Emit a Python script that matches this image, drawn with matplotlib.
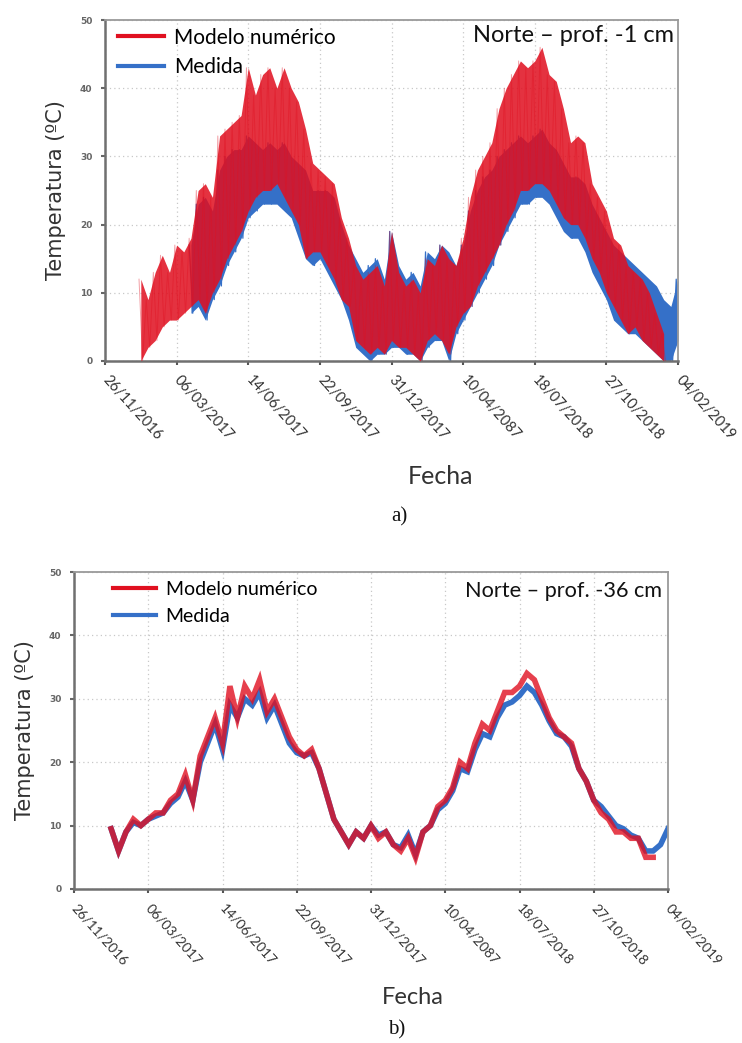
import numpy as np
import matplotlib
matplotlib.use('Agg')
import matplotlib.pyplot as plt
from matplotlib.lines import Line2D

# fechas: dias desde 26/11/2016, cada 10 dias
dias = [50, 60, 70, 80, 90, 100, 110, 120, 130, 140, 150, 160, 170, 180, 190,
        200, 210, 220, 230, 240, 250, 260, 270, 280, 290, 300, 310, 320, 330,
        340, 350, 360, 370, 380, 390, 400, 410, 420, 430, 440, 450, 460, 470,
        480, 490, 500, 510, 520, 530, 540, 550, 560, 570, 580, 590, 600, 610,
        620, 630, 640, 650, 660, 670, 680, 690, 700, 710, 720, 730, 740, 750,
        760, 770, 780, 790, 800]

nan = np.nan

# a) Norte - prof. -1 cm (envolventes max/min)
modelo_a_max = [12, 9, 13, 15.5, 13, 17, 16, 18, 25, 26, 24, 33, 34, 35, 36,
                43, 39, 42, 43, 40, 43, 40, 38, 34, 29, 28, 27, 26, 21,
                18, 14, 12, 13, 14, 11, 19, 13, 11, 12, 10, 15, 14, 17,
                15, 14, 18, 24, 28, 30, 32, 37, 40, 42, 44, 43, 44, 46,
                42, 41, 37, 32, 33, 32, 26, 24, 22, 18, 17, 14, 13, 12,
                10, 7, 4, nan, nan]
modelo_a_min = [0, 2, 3, 5, 6, 6, 7, 8, 9, 7, 10, 12, 15, 17, 19,
                22, 24, 25, 25, 26, 24, 22, 20, 15, 16, 16, 14, 12, 9,
                8, 3, 2, 1, 2, 1, 3, 2, 2, 1, 0, 3, 4, 3,
                1, 5, 7, 8, 11, 13, 15, 17, 20, 22, 25, 25, 26, 26,
                25, 23, 21, 20, 20, 18, 15, 13, 10, 8, 6, 4, 5, 3,
                2, 1, 0, nan, nan]
medida_a_max = [nan, nan, nan, nan, nan, nan, nan, 17, 23, 24, 22, 28, 30, 31, 31,
                33, 32, 31, 32, 31, 32, 30, 29, 28, 25, 25, 25, 24, 20,
                17, 15, 13, 14, 15, 12, 19, 14, 12, 13, 11, 16, 15, 17,
                16, 14, 17, 22, 25, 27, 28, 30, 31, 32, 33, 32, 33, 34,
                32, 31, 29, 27, 27, 26, 23, 21, 19, 17, 16, 15, 14, 13,
                12, 11, 9, 8, 12]
medida_a_min = [nan, nan, nan, nan, nan, nan, nan, 7, 8, 6, 9, 11, 14, 16, 18,
                21, 22, 23, 23, 23, 22, 21, 18, 15, 14, 15, 13, 11, 9,
                6, 2, 1, 0, 1, 1, 2, 2, 1, 1, 0, 2, 3, 3,
                0, 4, 6, 8, 10, 12, 14, 17, 19, 21, 23, 23, 24, 24,
                23, 21, 19, 18, 18, 16, 13, 11, 9, 6, 5, 4, 4, 3,
                2, 1, 0, 0, 3]

# b) Norte - prof. -36 cm
modelo_b = [9.5, 6, 9, 11, 10, 11, 12, 12, 14, 15, 18, 14, 21, 24, 27,
            23, 32, 27, 32, 30, 33, 28, 30, 27, 24, 22, 21, 22, 19,
            15, 11, 9, 7, 9, 8, 10, 8, 9, 7, 6, 8, 5, 9,
            10, 13, 14, 16, 20, 19, 23, 26, 25, 28, 31, 31, 32, 34,
            33, 30, 27, 25, 24, 23, 19, 17, 14, 12, 11, 9, 9, 8,
            8, 5, 5, nan, nan]
medida_b = [9.5, 6, 9, 10.5, 10, 11, 11.5, 12, 13.5, 14.5, 17, 14, 20, 23, 26,
            22, 29, 27, 30, 29, 31, 27, 29, 26, 23, 21.5, 21, 21.5, 19,
            15, 11, 9, 7, 9, 8, 10, 8.5, 9, 7, 6.5, 8.5, 5.5, 9,
            10, 12.5, 13.5, 15.5, 19, 18.5, 22, 24.5, 24, 27, 29, 29.5, 30.5, 32,
            31, 29, 26.5, 24.5, 24, 22.5, 19, 17, 14, 13, 11.5, 10, 9.5, 8.5,
            8, 6, 6, 7, 9.5]

fechas_ticks = ['26/11/2016', '06/03/2017', '14/06/2017', '22/09/2017',
                '31/12/2017', '10/04/2087', '18/07/2018', '27/10/2018',
                '04/02/2019']
ticks_dias = [0, 100, 200, 300, 400, 500, 600, 700, 800]

ROJO = '#e01020'
AZUL = '#3570c8'

fig = plt.figure(figsize=(7.42, 10.43), dpi=100)
W, H = 742, 1043


def px_axes(x0, y0, x1, y1):
    return fig.add_axes([x0 / W, 1 - y1 / H, (x1 - x0) / W, (y1 - y0) / H])


def estilo(ax, fs_ticks):
    ax.set_xlim(0, 800)
    ax.set_ylim(0, 50)
    ax.set_xticks(ticks_dias)
    ax.set_xticklabels(fechas_ticks, rotation=-48, ha='left', va='center',
                       rotation_mode='anchor', family='Lato',
                       fontsize=fs_ticks, color='#333333')
    ax.set_yticks([0, 10, 20, 30, 40, 50])
    ax.set_yticklabels(['0', '10', '20', '30', '40', '50'], fontsize=6.5,
                       color='#666666', fontweight='bold')
    ax.tick_params(axis='x', length=3, width=1.5, color='#555555', pad=9)
    ax.tick_params(axis='y', length=3, width=1.5, color='#666666', pad=6)
    ax.grid(True, color='#c8c8c8', linestyle=(0, (1, 2.5)), linewidth=0.9)
    ax.set_axisbelow(True)
    for s in ['left', 'bottom']:
        ax.spines[s].set_color('#707070')
        ax.spines[s].set_linewidth(1.8)
    for s in ['top', 'right']:
        ax.spines[s].set_color('#9a9a9a')
        ax.spines[s].set_linewidth(1.3)


def leyenda(ax, x, y, fs, esp):
    h = [Line2D([], [], color=ROJO, lw=3),
         Line2D([], [], color=AZUL, lw=3)]
    ax.legend(h, ['Modelo numérico', 'Medida'], loc='upper left',
              bbox_to_anchor=(x, y), frameon=False, borderaxespad=0,
              borderpad=0, handlelength=2.2, handletextpad=0.5,
              labelspacing=esp, prop={'family': 'Lato', 'size': fs})


def banda(ax, lo, hi, color, alpha, lw_sierra, alpha_sierra, z):
    # banda max/min diaria y trazo en diente de sierra entre max y min
    ax.fill_between(dias, lo, hi, color=color, alpha=alpha, lw=0, zorder=z)
    xs, ys = [], []
    for d, a, b in zip(dias, hi, lo):
        xs += [d - 2.5, d + 2.5]
        ys += [a, b]
    ax.plot(xs, ys, color=color, alpha=alpha_sierra, lw=lw_sierra,
            zorder=z + 0.1)


# ---- panel a ----
ax1 = px_axes(105, 20, 678, 361)
estilo(ax1, 10.5)
banda(ax1, medida_a_min, medida_a_max, AZUL, 1.0, 0.9, 1.0, 2)
banda(ax1, modelo_a_min, modelo_a_max, ROJO, 0.86, 0.7, 0.4, 3)
leyenda(ax1, 0.023, 0.978, 15, 0.45)
ax1.text(0.993, 0.955, 'Norte – prof. -1 cm', transform=ax1.transAxes,
         ha='right', va='center', family='Lato', fontsize=17, color='#111111')
ax1.set_ylabel('Temperatura (ºC)', fontsize=15, color='#333333', labelpad=10)

# ---- panel b ----
ax2 = px_axes(74, 572, 668, 889)
estilo(ax2, 10)
ax2.plot(dias, medida_b, color=AZUL, lw=4, solid_joinstyle='miter')
ax2.plot(dias, modelo_b, color=ROJO, lw=4, alpha=0.8, solid_joinstyle='miter')
leyenda(ax2, 0.066, 0.972, 14, 0.5)
ax2.text(0.99, 0.94, 'Norte – prof. -36 cm', transform=ax2.transAxes,
         ha='right', va='center', family='Lato', fontsize=15.6, color='#111111')
ax2.set_ylabel('Temperatura (ºC)', fontsize=15, color='#333333', labelpad=10)

fig.text(440 / W, 1 - 477 / H, 'Fecha', ha='center', va='center',
         family='Lato', fontsize=18, color='#333333')
fig.text(399 / W, 1 - 517 / H, 'a)', ha='center', va='center',
         family='Liberation Serif', fontsize=15, color='#111111')
fig.text(413 / W, 1 - 998 / H, 'Fecha', ha='center', va='center',
         family='Lato', fontsize=17, color='#333333')
fig.text(397 / W, 1 - 1030 / H, 'b)', ha='center', va='center',
         family='Liberation Serif', fontsize=15, color='#111111')

fig.savefig('out.png', dpi=100)
